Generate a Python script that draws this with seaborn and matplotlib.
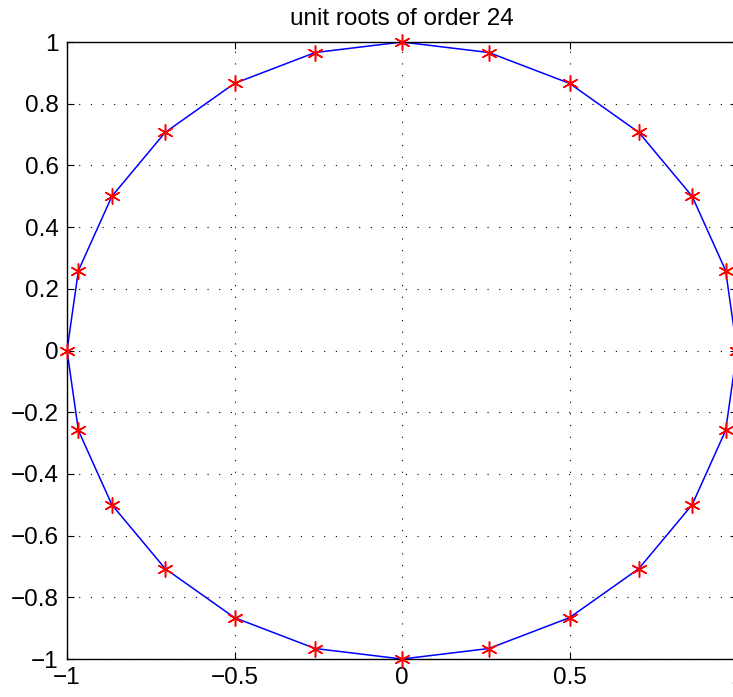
import matplotlib
matplotlib.use("Agg")
import matplotlib.pyplot as plt
import seaborn as sns
import pandas as pd

# unit roots of order 24 (k = 0..24, last closes the loop)
re_part = [1.0, 0.966, 0.866, 0.707, 0.5, 0.259, 0.0, -0.259, -0.5, -0.707, -0.866, -0.966,
           -1.0, -0.966, -0.866, -0.707, -0.5, -0.259, 0.0, 0.259, 0.5, 0.707, 0.866, 0.966, 1.0]
im_part = [0.0, 0.259, 0.5, 0.707, 0.866, 0.966, 1.0, 0.966, 0.866, 0.707, 0.5, 0.259,
           0.0, -0.259, -0.5, -0.707, -0.866, -0.966, -1.0, -0.966, -0.866, -0.707, -0.5, -0.259, 0.0]
x_ticks = [-1, -0.5, 0, 0.5, 1]
x_labels = ["\u22121", "\u22120.5", "0", "0.5", "1"]
y_ticks = [-1, -0.8, -0.6, -0.4, -0.2, 0, 0.2, 0.4, 0.6, 0.8, 1]
y_labels = ["\u22121", "\u22120.8", "\u22120.6", "\u22120.4", "\u22120.2", "0", "0.2", "0.4", "0.6", "0.8", "1"]

df = pd.DataFrame({"re": re_part, "im": im_part})

sns.set_style("white")
plt.rcParams["font.family"] = ["Liberation Sans", "DejaVu Sans"]
plt.rcParams["text.color"] = "black"
plt.rcParams["xtick.color"] = "black"
plt.rcParams["ytick.color"] = "black"

fig = plt.figure(figsize=(7.33, 6.97), dpi=100)
ax = fig.add_axes([0.0914, 0.0545, 0.9141, 0.8852])

sns.lineplot(data=df, x="re", y="im", sort=False, estimator=None, errorbar=None,
             color="blue", lw=1.1, ax=ax)
sns.scatterplot(data=df, x="re", y="im", marker=(6, 2, 0), s=120, color="red",
                edgecolor="red", linewidth=1.1, ax=ax, zorder=3, clip_on=False)

ax.set_xlim(-1, 1)
ax.set_ylim(-1, 1)
ax.set_xticks(x_ticks)
ax.set_xticklabels(x_labels)
ax.set_yticks(y_ticks)
ax.set_yticklabels(y_labels)
ax.set_xlabel("")
ax.set_ylabel("")
ax.grid(True, linestyle=(0, (1, 9.5)), color="black", lw=0.8)
ax.tick_params(direction="in", length=5, labelsize=17.5, width=0.8,
               top=True, right=True, bottom=True, left=True, pad=6,
               colors="black")
for s in ax.spines.values():
    s.set_color("black")
    s.set_linewidth(1.0)
ax.set_title("unit roots of order 24", fontsize=17.5, pad=12, color="black")

fig.savefig("out.png", dpi=100)
